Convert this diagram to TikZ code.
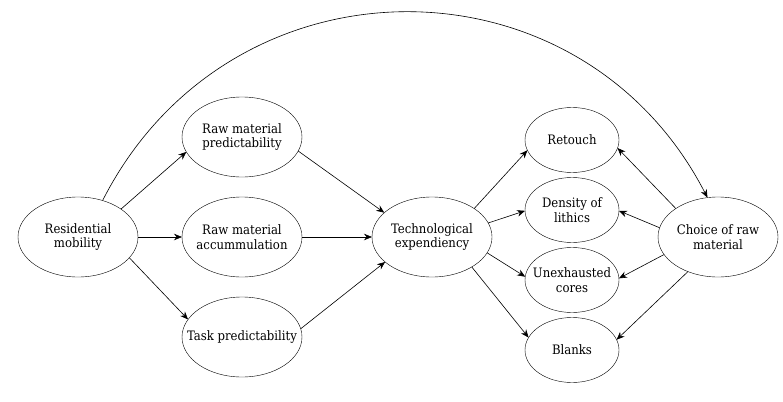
\documentclass[tikz,border=0pt]{standalone}
\usepackage{fontspec}
\setmainfont{DejaVu Serif Condensed}
\usetikzlibrary{shapes.geometric,arrows.meta}
\begin{document}
\begin{tikzpicture}[x=1pt,y=-1pt,
            bigell/.style = {
                draw, ellipse,
                minimum width = 120pt, minimum height = 80pt,
                inner xsep = -20pt, inner ysep = -10pt, outer sep = 0pt,
                align = center, font = \fontsize{13}{14.5}\selectfont
            },
            smallell/.style = {bigell, minimum width = 94pt, minimum height = 65pt},
            conn/.style = {-{Stealth[length=8pt,width=6.5pt]}, line width=0.6pt}
        ]
            \useasboundingbox (0,0) rectangle (783,401);
            % left part
            \node[bigell] (res) at (78,237) {Residential\\mobility};
            \node[bigell] (rmpred) at (242,137) {Raw material\\predictability};
            \node[bigell] (rmacc) at (242,237) {Raw material\\accummulation};
            \node[bigell] (task) at (242,337) {Task predictability};
            \node[bigell] (tech) at (432,237) {Technological\\expendiency};
            % right part
            \node[smallell] (retouch) at (572,140) {Retouch};
            \node[smallell] (density) at (572,210) {Density of\\lithics};
            \node[smallell] (unexh) at (572,280) {Unexhausted\\cores};
            \node[smallell] (blanks) at (572,350) {Blanks};
            \node[bigell] (choice) at (718,237) {Choice of raw\\material};
            \draw[conn] (res.33) -- (rmpred.195);
            \draw[conn] (res.0) -- (rmacc.180);
            \draw[conn] (res.-22) -- (task.162);
            \draw[conn] (rmpred.-14) -- (tech.153);
            \draw[conn] (rmacc.0) -- (tech.180);
            \draw[conn] (task.8) -- (tech.208);
            \draw[conn] (tech.34) -- (retouch.193);
            \draw[conn] (tech.14) -- (density.181);
            \draw[conn] (tech.-16) -- (unexh.176);
            \draw[conn] (tech.-37) -- (blanks.164);
            \draw[conn] (choice.146) -- (retouch.-10);
            \draw[conn] (choice.171) -- (density.-1);
            \draw[conn] (choice.198) -- (unexh.2);
            \draw[conn] (choice.229) -- (blanks.13);
            \draw[conn] (res.56) .. controls (230,-50) and (580,-50) .. (choice.105);
        \end{tikzpicture}
\end{document}
